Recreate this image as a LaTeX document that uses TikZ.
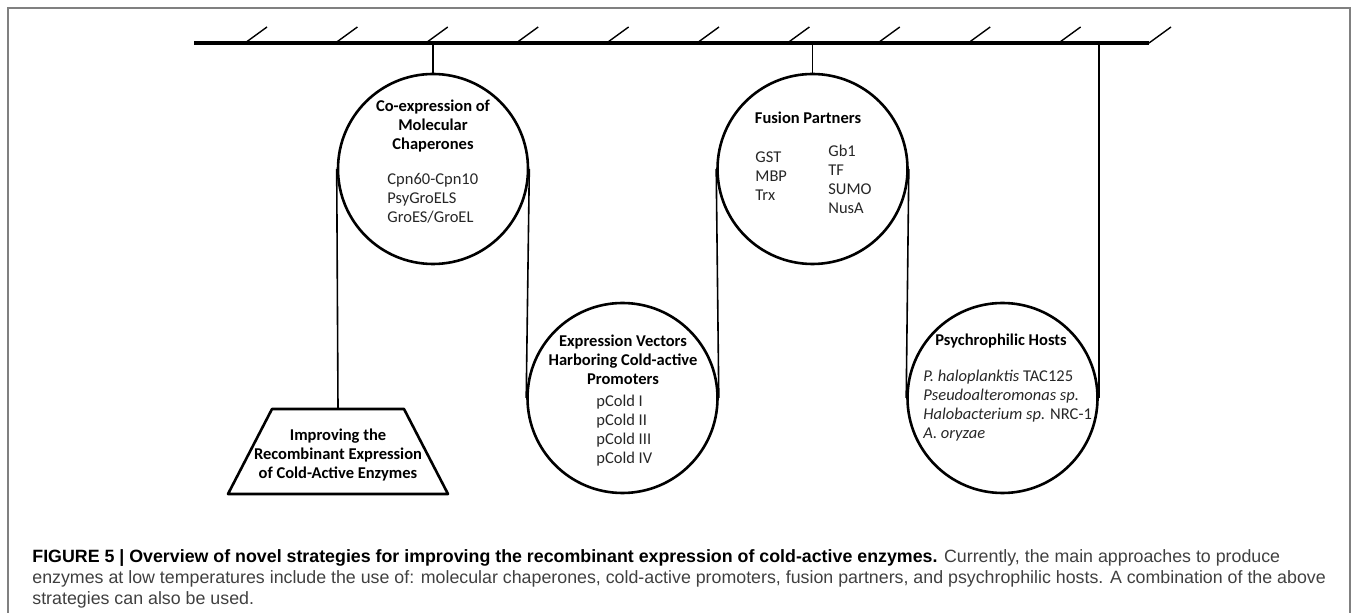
\documentclass[tikz,border=0pt]{standalone}
\usepackage{fontspec}
\setmainfont{Carlito}
\newfontfamily\capfont{Liberation Sans}
\definecolor{framegray}{HTML}{808080}
\definecolor{captext}{HTML}{404040}
\definecolor{inktext}{HTML}{262626}

\begin{document}
\begin{tikzpicture}[x=0.5pt,y=-0.5pt,
  pulley/.style={circle, draw, line width=1.3pt, minimum size=95pt, inner sep=0pt},
  rope/.style={line width=0.8pt},
  beam/.style={line width=1.8pt},
  hatch/.style={line width=0.7pt},
  weight/.style={line width=1.3pt, line join=round},
  title/.style={font=\fontsize{8.25}{9.5}\selectfont\bfseries, align=center, inner sep=0pt, anchor=base},
  items/.style={font=\fontsize{8.25}{9.5}\selectfont, text=inktext, align=left, inner sep=0pt, anchor=base west}]
\useasboundingbox (0,0) rectangle (1358,613);
% frame
\draw[framegray, line width=1pt] (8,613) -- (8,8) -- (1350,8) -- (1350,613);

% ceiling
\coordinate (barL) at (194,43);
\coordinate (barR) at (1149,43);
\draw[beam] (barL) -- (barR);
\foreach \i in {0,...,10}
  \draw[hatch] ({245+90.4*\i},43) -- ++(22,-16);

% pulleys
\node[pulley] (chap) at (433,169) {};
\node[pulley] (vect) at (622.5,398) {};
\node[pulley] (fusn) at (812.5,169) {};
\node[pulley] (host) at (1002.5,398) {};

% weight
\coordinate (goal) at (338,409);
\draw[weight] (272,409) -- (404,409) -- (448,494) -- (228,494) -- cycle;

% rope
\draw[rope] (chap.north) -- (chap.north |- barL);
\draw[rope] (chap.west) -- (goal);
\draw[rope] (chap.east) -- (vect.west);
\draw[rope] (vect.east) -- (fusn.west);
\draw[rope] (fusn.north) -- (fusn.north |- barL);
\draw[rope] (fusn.east) -- (host.west);
\draw[rope] (host.east) -- (host.east |- barL);

% texts (base anchor of the text nodes = last line)
\node[title] (chapT) at (433,150) {Co-expression of\\Molecular\\Chaperones};
\node[items] (chapL) at (387,223) {Cpn60-Cpn10\\PsyGroELS\\GroES/GroEL};
\node[title] (vectT) at (623,385) {Expression Vectors\\Harboring Cold-active\\Promoters};
\node[items] (vectL) at (596,464) {pCold I\\pCold II\\pCold III\\pCold IV};
\node[title] (fusnT) at (808,124) {Fusion Partners};
\node[items] (fusnL) at (755,201) {GST\\MBP\\Trx};
\node[items] (fusnR) at (828,214) {Gb1\\TF\\SUMO\\NusA};
\node[title] (hostT) at (1001,346) {Psychrophilic Hosts};
\node[items] (hostL) at (923,439) {\textit{P. haloplanktis} TAC125\\\textit{Pseudoalteromonas sp.}\\\textit{Halobacterium sp.} NRC-1\\\textit{A. oryzae}};
\node[title] (goalT) at (338,479) {Improving the\\Recombinant Expression\\of Cold-Active Enzymes};

% caption
\node[anchor=base west, inner sep=0pt, font=\capfont\fontsize{8.9}{10.5}\selectfont, align=left, text=captext] (cap) at (32,604)
  {\textcolor{black}{\bfseries FIGURE 5 | Overview of novel strategies for improving the recombinant expression of cold-active enzymes.} Currently, the main approaches to produce\\
   enzymes at low temperatures include the use of: molecular chaperones, cold-active promoters, fusion partners, and psychrophilic hosts. A combination of the above\\
   strategies can also be used.};
\end{tikzpicture}
\end{document}
